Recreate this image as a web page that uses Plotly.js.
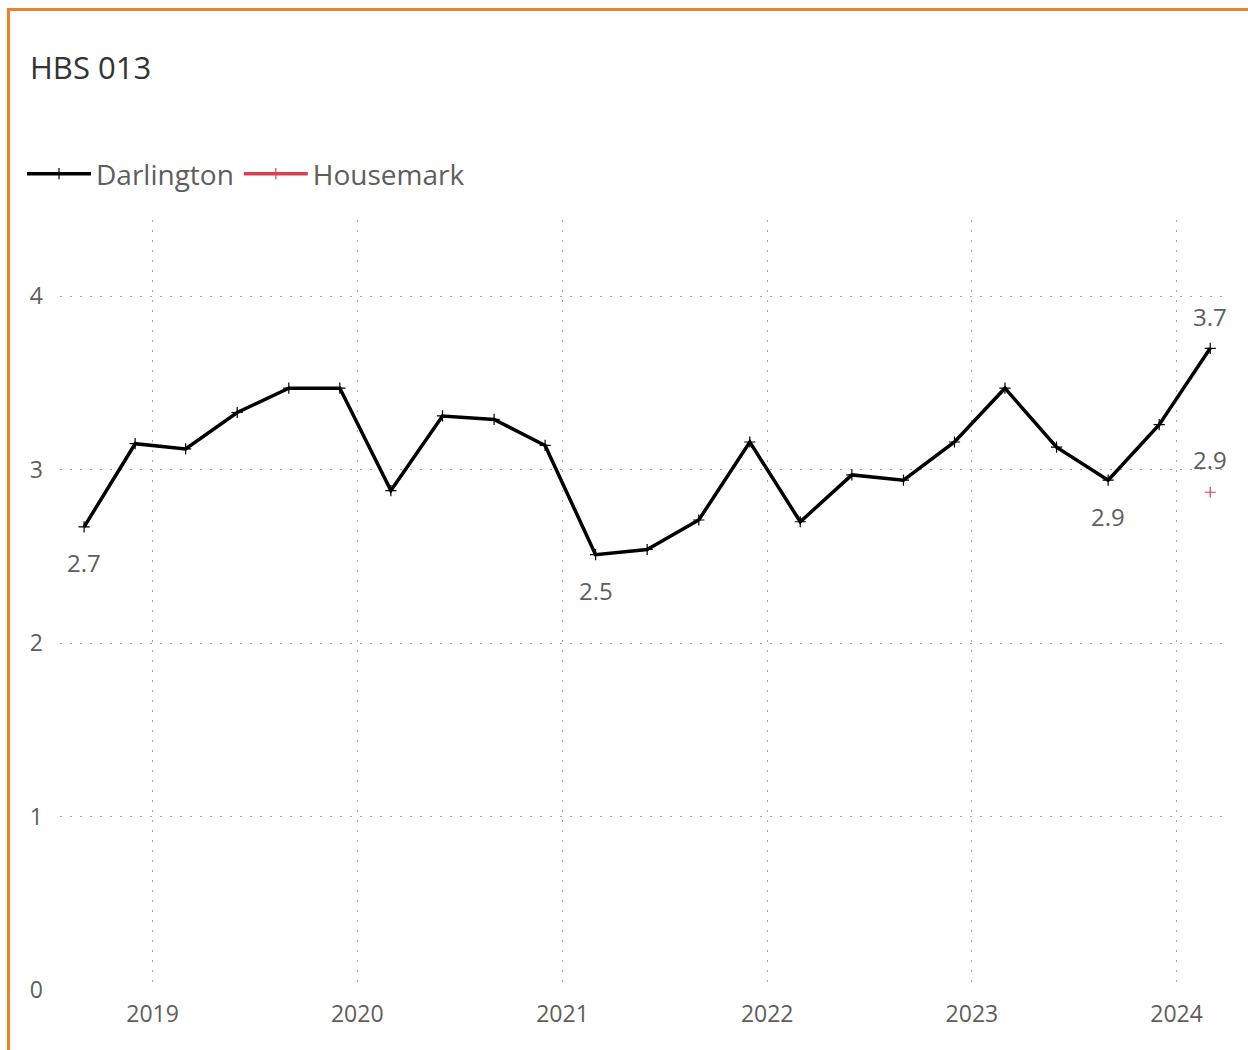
<!DOCTYPE html>
<html>
<head>
<meta charset="utf-8">
<script src="https://cdn.plot.ly/plotly-3.0.1.min.js"></script>
<style>
html,body{margin:0;padding:0;background:#fff;}
#wrap{position:absolute;left:0;top:0;width:1248px;height:1050px;}
#frame{position:absolute;left:7px;top:8px;width:1260px;height:1100px;border-left:3px solid #E8822C;border-top:3px solid #E8822C;pointer-events:none;}
#chart{position:absolute;left:0;top:0;width:1248px;height:1050px;}
</style>
</head>
<body>
<div id="wrap"><div id="chart"></div><div id="frame"></div></div>
<script>
const dates = ["2018-09-01","2018-12-01","2019-03-01","2019-06-01","2019-09-01","2019-12-01",
  "2020-03-01","2020-06-01","2020-09-01","2020-12-01","2021-03-01","2021-06-01","2021-09-01",
  "2021-12-01","2022-03-01","2022-06-01","2022-09-01","2022-12-01","2023-03-01","2023-06-01",
  "2023-09-01","2023-12-01","2024-03-01"];
const darlington = [2.67,3.15,3.12,3.33,3.47,3.47,2.88,3.31,3.29,3.14,2.51,2.54,2.71,3.16,2.70,
  2.97,2.94,3.16,3.47,3.13,2.94,3.26,3.70];
const housemarkDates = ["2024-03-01"];
const housemark = [2.87];
const darlLabelIdx = [0,10,20,22];
const darlLabelPos = ["below","below","below","above"];
const hmLabelPos = ["above"];

const textColor = "#605E5C";
const font = "'Segoe UI', 'Open Sans', 'Noto Sans', sans-serif";

const annotations = [];
darlLabelIdx.forEach((i,k)=>{
  annotations.push({x:dates[i],y:darlington[i],xref:'x',yref:'y',text:darlington[i].toFixed(1),
    showarrow:false,yshift:darlLabelPos[k]==="above"?32:-36,font:{size:24,color:textColor,family:font}});
});
housemark.forEach((v,i)=>{
  annotations.push({x:housemarkDates[i],y:v,xref:'x',yref:'y',text:v.toFixed(1),
    showarrow:false,yshift:hmLabelPos[i]==="above"?33:-36,font:{size:24,color:textColor,family:font}});
});

const traces = [
  {x:dates,y:darlington,name:"Darlington",type:"scatter",mode:"lines+markers",
   line:{color:"#000000",width:3.5},
   marker:{symbol:"cross-thin",size:8,color:"#000000",line:{color:"#000000",width:1.2}}},
  {x:housemarkDates,y:housemark,name:"Housemark",type:"scatter",mode:"lines+markers",
   line:{color:"#D9404F",width:3.5},
   marker:{symbol:"cross-thin",size:8,color:"#D9404F",line:{color:"#D9404F",width:1.2}}}
];

const layout = {
  width:1248,height:1050,
  paper_bgcolor:"rgba(0,0,0,0)",plot_bgcolor:"rgba(0,0,0,0)",
  margin:{l:60,r:26,t:220,b:60},
  font:{family:font,color:textColor},
  title:{text:"HBS 013",x:30/1248,xanchor:"left",xref:"container",y:1-68/1050,yanchor:"middle",yref:"container",
    font:{size:31,color:"#333333",family:font}},
  showlegend:true,
  legend:{orientation:"h",xref:"container",yref:"container",x:22/1248,xanchor:"left",y:1-174/1050,yanchor:"middle",
    font:{size:28,color:textColor,family:font},itemwidth:64,tracegroupgap:0,bgcolor:"rgba(0,0,0,0)"},
  xaxis:{type:"date",range:["2018-07-20","2024-03-22"],tickformat:"%Y",dtick:"M12",tick0:"2019-01-01",
    showgrid:true,gridcolor:"#AAAAAA",griddash:"2px,8px",gridwidth:1,zeroline:false,showline:false,ticks:"",
    tickfont:{size:23,color:textColor,family:font},ticklabelstandoff:8},
  yaxis:{range:[0,4.44],dtick:1,tick0:0,showgrid:true,gridcolor:"#AAAAAA",griddash:"2px,8px",gridwidth:1,
    zeroline:false,showline:false,ticks:"",tickfont:{size:23,color:textColor,family:font},ticklabelstandoff:16},
  annotations:annotations
};
Plotly.newPlot("chart",traces,layout,{displayModeBar:false,staticPlot:true});
</script>
</body>
</html>
